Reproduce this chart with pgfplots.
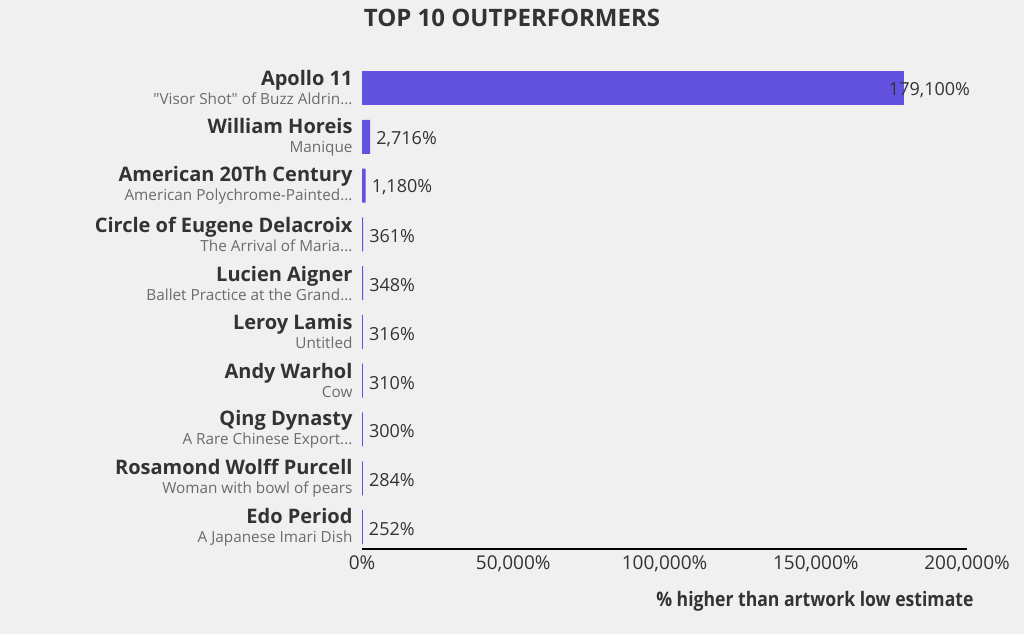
\documentclass[border=0pt]{standalone}
\usepackage{pgfplots}
\pgfplotsset{compat=1.18}
\usepackage{fontspec}
\setmainfont{Open Sans}
\newfontfamily\condfont[FakeStretch=0.88]{Open Sans}
\definecolor{bg}{HTML}{F0F0F0}
\definecolor{barc}{HTML}{6251DF}
\definecolor{txt}{HTML}{333333}
\definecolor{subc}{HTML}{6B6B6B}
\newcommand{\lab}[2]{{\fontsize{20}{19}\selectfont\bfseries\color{txt}#1}\\{\fontsize{15.3}{19}\selectfont\color{subc}#2}}
\begin{document}
\begin{tikzpicture}[x=1pt,y=1pt]
\fill[bg] (0,0) rectangle (1024,634);
\begin{axis}[
  at={(362pt,85pt)}, anchor=south west,
  scale only axis, width=605pt, height=485.4pt,
  xbar, bar width=34pt, bar shift=0pt,
  xmin=0, xmax=200000, ymin=-0.45, ymax=9.5,
  clip=false,
  axis line style={draw=none},
  major tick length=0pt,
  xtick={0,50000,100000,150000,200000},
  scaled x ticks=false,
  /pgf/number format/.cd, fixed, precision=0, 1000 sep={,}, assume math mode=true,
  /pgfplots/.cd,
  xticklabel={\pgfmathprintnumber{\tick}\%},
  xticklabel style={font=\fontsize{19}{20}\selectfont, text=txt, yshift=-3pt},
  ytick={0,1,2,3,4,5,6,7,8,9},
  yticklabels={
    {\lab{Edo Period}{A Japanese Imari Dish}},
    {\lab{Rosamond Wolff Purcell}{Woman with bowl of pears}},
    {\lab{Qing Dynasty}{A Rare Chinese Export...}},
    {\lab{Andy Warhol}{Cow}},
    {\lab{Leroy Lamis}{Untitled}},
    {\lab{Lucien Aigner}{Ballet Practice at the Grand...}},
    {\lab{Circle of Eugene Delacroix}{The Arrival of Maria...}},
    {\lab{American 20Th Century}{American Polychrome-Painted...}},
    {\lab{William Horeis}{Manique}},
    {\lab{Apollo 11}{\textquotedbl Visor Shot\textquotedbl\ of Buzz Aldrin...}}
  },
  yticklabel style={align=right, xshift=-6pt, font=\fontsize{15.3}{19}\selectfont},
  nodes near coords={\pgfmathprintnumber{\pgfplotspointmeta}\%},
  nodes near coords style={anchor=west, inner sep=0pt, xshift=6pt, yshift=-2pt, font=\fontsize{18}{20}\selectfont, text=txt},
  point meta=x,
  after end axis/.code={\draw[line width=2.5pt, black] (rel axis cs:0,0) -- (rel axis cs:1,0);},
]
\addplot[fill=barc, draw=none] coordinates {
  (252,0) (284,1) (300,2) (310,3) (316,4) (348,5) (361,6) (1180,7) (2716,8)
};
\addplot[fill=barc, draw=none, nodes near coords style={xshift=-21pt}] coordinates {
  (179100,9)
};
\end{axis}
\node[font=\fontsize{24}{26}\selectfont\bfseries, text=txt] at (512,616) {TOP 10 OUTPERFORMERS};
\node[anchor=east, font=\condfont\fontsize{20}{22}\selectfont\bfseries, text=txt] at (977,33) {\% higher than artwork low estimate};
\end{tikzpicture}
\end{document}
